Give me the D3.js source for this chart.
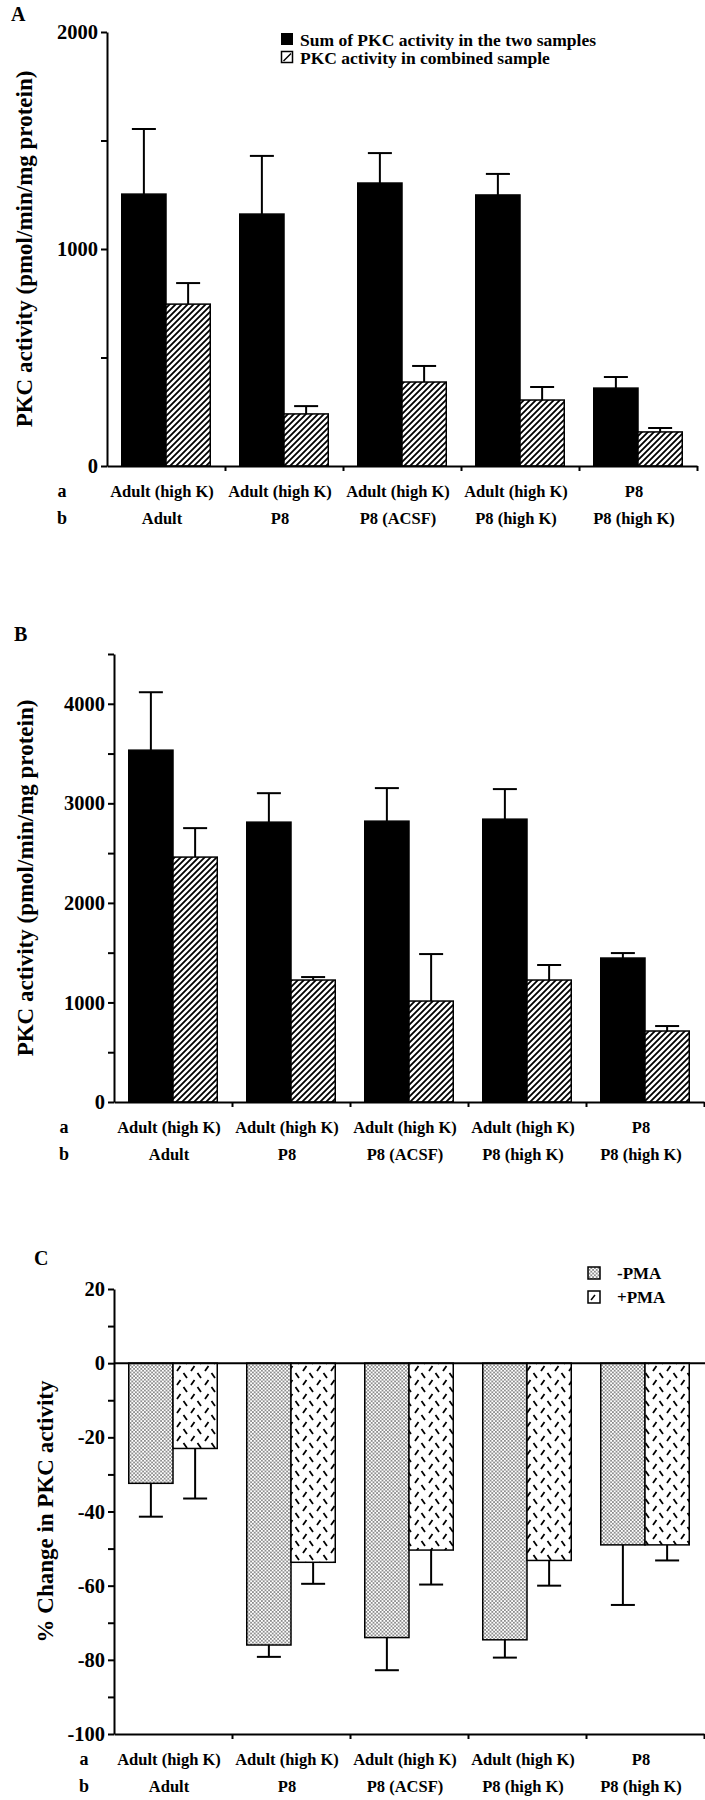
<!DOCTYPE html>
<html>
<head>
<meta charset="utf-8">
<script src="https://cdn.jsdelivr.net/npm/d3@7"></script>
<style>
  body { margin: 0; background: #fff; }
  svg { display: block; }
  text { font-family: "Liberation Serif", "Times New Roman", serif; font-weight: bold; fill: #000; }
</style>
</head>
<body>
<svg id="fig" width="705" height="1800"></svg>
<script>
// ---- data ----
const rowA = ["Adult (high K)", "Adult (high K)", "Adult (high K)", "Adult (high K)", "P8"];
const rowB = ["Adult", "P8", "P8 (ACSF)", "P8 (high K)", "P8 (high K)"];

// panel A (pmol/min/mg protein)
const sumA = [1253, 1161, 1304, 1249, 359];
const sumAErr = [300, 268, 138, 97, 51];
const combA = [746, 240, 387, 304, 157];
const combAErr = [97, 36, 74, 60, 18];
const ticksA = [0, 1000, 2000];

// panel B
const sumB = [3534, 2811, 2821, 2841, 1446];
const sumBErr = [582, 291, 332, 302, 50];
const combB = [2460, 1225, 1014, 1225, 713];
const combBErr = [291, 30, 472, 151, 50];
const ticksB = [0, 1000, 2000, 3000, 4000];

// panel C (% change)
const minusPMA = [-32.4, -76, -74, -74.6, -49];
const minusPMAErr = [9, 3.2, 8.8, 4.8, 16.2];
const plusPMA = [-23, -53.7, -50.4, -53.2, -49];
const plusPMAErr = [13.5, 5.8, 9.3, 6.8, 4.2];
const ticksC = [20, 0, -20, -40, -60, -80, -100];

const svg = d3.select("#fig");

// ---- fill patterns ----
const defs = svg.append("defs");

const hatch = defs.append("pattern")
  .attr("id", "hatch").attr("patternUnits", "userSpaceOnUse")
  .attr("width", 6).attr("height", 6);
hatch.append("rect").attr("width", 6).attr("height", 6).attr("fill", "#fff");
hatch.append("path")
  .attr("d", "M0,6 L6,0 M-1.5,1.5 L1.5,-1.5 M4.5,7.5 L7.5,4.5")
  .attr("stroke", "#000").attr("stroke-width", 1.8);

const dots = defs.append("pattern")
  .attr("id", "dots").attr("patternUnits", "userSpaceOnUse")
  .attr("width", 3.6).attr("height", 3.6);
dots.append("rect").attr("width", 3.6).attr("height", 3.6).attr("fill", "#fff");
dots.append("circle").attr("cx", 0.9).attr("cy", 0.9).attr("r", 0.75).attr("fill", "#000");
dots.append("circle").attr("cx", 2.7).attr("cy", 2.7).attr("r", 0.75).attr("fill", "#000");

const dashes = defs.append("pattern")
  .attr("id", "dashes").attr("patternUnits", "userSpaceOnUse")
  .attr("width", 14).attr("height", 14);
dashes.append("rect").attr("width", 14).attr("height", 14).attr("fill", "#fff");
dashes.append("path")
  .attr("d", "M1.5,1 L5,6 M12.5,8 L9,13")
  .attr("stroke", "#000").attr("stroke-width", 1.8);

/**
 * One bar panel: two bars per group, error bars away from zero,
 * y axis with minor ticks, x axis ticks between groups.
 */
function drawPanel(cfg) {
  const {
    x0, x1, yTop, yBottom, domain, minorStep, labelTicks,
    first, firstErr, firstFill, second, secondErr, secondFill,
    xAxisAt, zeroLine = false, rowLabelX, title, titleX, titleSize
  } = cfg;

  const y = d3.scaleLinear().domain(domain).range([yBottom, yTop]);
  const x = d3.scaleBand().domain(d3.range(5)).range([x0, x1])
    .paddingInner(0.25).paddingOuter(0.125);
  const sub = d3.scaleBand().domain([0, 1]).range([0, x.bandwidth()]);
  const bounds = d3.scaleLinear().domain([0, 5]).range([x0, x1]);

  const g = svg.append("g");

  const series = [
    { vals: first, errs: firstErr, fill: firstFill, k: 0 },
    { vals: second, errs: secondErr, fill: secondFill, k: 1 }
  ];

  // error bars first so bars sit on top of the stem
  series.forEach(s => {
    s.vals.forEach((v, i) => {
      const cx = x(i) + sub(s.k) + sub.bandwidth() / 2;
      const end = v + Math.sign(v) * s.errs[i];
      g.append("line")
        .attr("x1", cx).attr("x2", cx)
        .attr("y1", y(v)).attr("y2", y(end))
        .attr("stroke", "#000").attr("stroke-width", 2);
      g.append("line")
        .attr("x1", cx - 12).attr("x2", cx + 12)
        .attr("y1", y(end)).attr("y2", y(end))
        .attr("stroke", "#000").attr("stroke-width", 2);
    });
  });

  series.forEach(s => {
    g.selectAll(null)
      .data(s.vals)
      .join("rect")
      .attr("x", (d, i) => x(i) + sub(s.k))
      .attr("width", sub.bandwidth())
      .attr("y", d => Math.min(y(0), y(d)))
      .attr("height", d => Math.abs(y(d) - y(0)))
      .attr("fill", s.fill)
      .attr("stroke", "#000")
      .attr("stroke-width", 1.5);
  });

  // y axis
  const yAxis = g.append("g")
    .attr("transform", `translate(${x0},0)`)
    .call(d3.axisLeft(y)
      .tickValues(d3.range(domain[0], domain[1] + 0.001, minorStep))
      .tickSize(6).tickSizeOuter(0).tickPadding(3)
      .tickFormat(d => labelTicks.includes(d) ? String(d) : ""));
  yAxis.selectAll("path, line").attr("stroke", "#000").attr("stroke-width", 2);
  yAxis.selectAll("text")
    .attr("font-size", 20.5)
    .attr("font-family", "Liberation Serif, serif")
    .attr("font-weight", "bold");

  // x axis with ticks between groups
  const xAxis = g.append("g")
    .attr("transform", `translate(0,${y(xAxisAt)})`)
    .call(d3.axisBottom(bounds).tickValues([1, 2, 3, 4, 5])
      .tickSize(5).tickSizeOuter(0).tickFormat(""));
  xAxis.selectAll("path, line").attr("stroke", "#000").attr("stroke-width", 2);

  if (zeroLine) {
    g.append("line")
      .attr("x1", x0).attr("x2", 705)
      .attr("y1", y(0)).attr("y2", y(0))
      .attr("stroke", "#000").attr("stroke-width", 2);
  }

  // group labels, rows a and b
  const base = y(xAxisAt);
  [["a", rowA, 31], ["b", rowB, 58]].forEach(([name, labels, dy]) => {
    g.append("text")
      .attr("x", rowLabelX).attr("y", base + dy)
      .attr("font-size", 18).attr("text-anchor", "middle")
      .text(name);
    g.selectAll(null)
      .data(labels)
      .join("text")
      .attr("x", (d, i) => x(i) + x.bandwidth() / 2 - 4)
      .attr("y", base + dy)
      .attr("font-size", 16.5)
      .attr("text-anchor", "middle")
      .text(d => d);
  });

  // axis title
  g.append("text")
    .attr("transform", `translate(${titleX},${(yTop + yBottom) / 2}) rotate(-90)`)
    .attr("text-anchor", "middle")
    .attr("font-size", titleSize)
    .text(title);

  return { x, y };
}

// ---- panel A ----
svg.append("text").attr("x", 11).attr("y", 21).attr("font-size", 20).text("A");
drawPanel({
  x0: 107, x1: 697, yTop: 32, yBottom: 466, domain: [0, 2000],
  minorStep: 500, labelTicks: ticksA,
  first: sumA, firstErr: sumAErr, firstFill: "#000",
  second: combA, secondErr: combAErr, secondFill: "url(#hatch)",
  xAxisAt: 0, rowLabelX: 62,
  title: "PKC activity (pmol/min/mg protein)", titleX: 32, titleSize: 23
});

const legA = svg.append("g");
const legItemsA = ["Sum of PKC activity in the two samples", "PKC activity in combined sample"];
legA.selectAll("text")
  .data(legItemsA)
  .join("text")
  .attr("x", 300).attr("y", (d, i) => 46 + i * 18)
  .attr("font-size", 17.5)
  .text(d => d);
legA.append("rect").attr("x", 281).attr("y", 33).attr("width", 12).attr("height", 12).attr("fill", "#000");
legA.append("rect").attr("x", 281.5).attr("y", 51.5).attr("width", 11).attr("height", 11)
  .attr("fill", "#fff").attr("stroke", "#000").attr("stroke-width", 1.5);
legA.append("line").attr("x1", 283.5).attr("y1", 61).attr("x2", 291).attr("y2", 53.5)
  .attr("stroke", "#000").attr("stroke-width", 1.5);

// ---- panel B ----
svg.append("text").attr("x", 14).attr("y", 641).attr("font-size", 20).text("B");
drawPanel({
  x0: 114, x1: 704, yTop: 654, yBottom: 1102, domain: [0, 4500],
  minorStep: 500, labelTicks: ticksB,
  first: sumB, firstErr: sumBErr, firstFill: "#000",
  second: combB, secondErr: combBErr, secondFill: "url(#hatch)",
  xAxisAt: 0, rowLabelX: 64,
  title: "PKC activity (pmol/min/mg protein)", titleX: 33, titleSize: 23
});

// ---- panel C ----
svg.append("text").attr("x", 34).attr("y", 1265).attr("font-size", 20).text("C");
drawPanel({
  x0: 114, x1: 704, yTop: 1289, yBottom: 1734, domain: [-100, 20],
  minorStep: 10, labelTicks: ticksC,
  first: minusPMA, firstErr: minusPMAErr, firstFill: "url(#dots)",
  second: plusPMA, secondErr: plusPMAErr, secondFill: "url(#dashes)",
  xAxisAt: -100, zeroLine: true, rowLabelX: 84,
  title: "% Change in PKC activity", titleX: 53, titleSize: 23
});

const legC = svg.append("g");
const legItemsC = ["-PMA", "+PMA"];
legC.selectAll("text")
  .data(legItemsC)
  .join("text")
  .attr("x", 617).attr("y", (d, i) => 1279 + i * 24)
  .attr("font-size", 17)
  .text(d => d);
legC.append("rect").attr("x", 588).attr("y", 1267).attr("width", 12).attr("height", 12)
  .attr("fill", "url(#dots)").attr("stroke", "#000").attr("stroke-width", 1.5);
legC.append("rect").attr("x", 588).attr("y", 1291).attr("width", 12).attr("height", 12)
  .attr("fill", "#fff").attr("stroke", "#000").attr("stroke-width", 1.5);
legC.append("line").attr("x1", 591).attr("y1", 1300).attr("x2", 595).attr("y2", 1295)
  .attr("stroke", "#000").attr("stroke-width", 1.5);
</script>
</body>
</html>
